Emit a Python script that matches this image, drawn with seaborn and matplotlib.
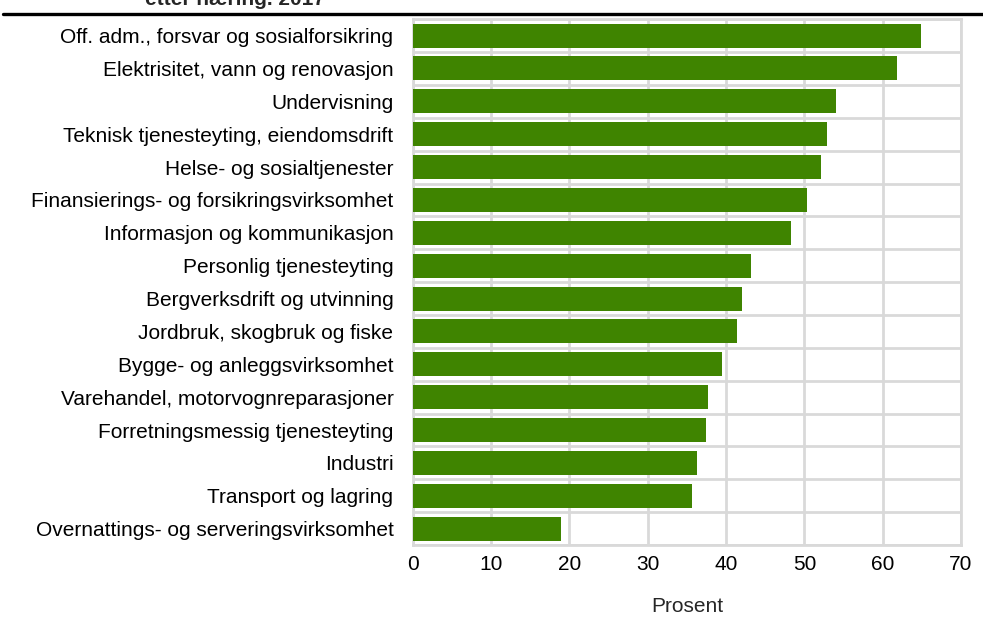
import matplotlib
matplotlib.use("Agg")
import matplotlib.pyplot as plt
from matplotlib.lines import Line2D
from matplotlib.ticker import MultipleLocator
import pandas as pd
import seaborn as sns

# Data
naering = [
    "Off. adm., forsvar og sosialforsikring",
    "Elektrisitet, vann og renovasjon",
    "Undervisning",
    "Teknisk tjenesteyting, eiendomsdrift",
    "Helse- og sosialtjenester",
    "Finansierings- og forsikringsvirksomhet",
    "Informasjon og kommunikasjon",
    "Personlig tjenesteyting",
    "Bergverksdrift og utvinning",
    "Jordbruk, skogbruk og fiske",
    "Bygge- og anleggsvirksomhet",
    "Varehandel, motorvognreparasjoner",
    "Forretningsmessig tjenesteyting",
    "Industri",
    "Transport og lagring",
    "Overnattings- og serveringsvirksomhet",
]
prosent = [64.9, 61.8, 54.0, 52.9, 52.1, 50.3, 48.3, 43.2, 42.0, 41.4,
           39.5, 37.7, 37.4, 36.3, 35.6, 18.9]
x_ticks = [0, 10, 20, 30, 40, 50, 60, 70]

df = pd.DataFrame({"naering": naering, "prosent": prosent})

sns.set_style("white")
plt.rcParams["font.family"] = ["Liberation Sans", "DejaVu Sans"]

fig = plt.figure(figsize=(9.83, 6.18), dpi=100)
ax = fig.add_axes([0.420, 0.118, 0.5576, 0.851])

sns.barplot(data=df, x="prosent", y="naering", color="#3f8400", saturation=1,
            width=0.73, linewidth=0, ax=ax, zorder=3)

ax.set_xlim(0, 70)
ax.set_ylim(len(naering) - 0.5, -0.5)
ax.set_xticks(x_ticks)
ax.set_yticks(range(len(naering)))
ax.set_yticklabels(naering)
ax.yaxis.set_minor_locator(MultipleLocator(1, offset=0.5))

grid_col = "#d9d9d9"
ax.grid(axis="x", which="major", color=grid_col, linewidth=2, zorder=0)
ax.grid(axis="y", which="minor", color=grid_col, linewidth=2, zorder=0)
ax.set_axisbelow(True)
for s in ax.spines.values():
    s.set_color(grid_col)
    s.set_linewidth(2)

fs = 15
ax.tick_params(axis="both", which="both", length=0, labelsize=fs, colors="black")
ax.tick_params(axis="x", pad=7)
ax.tick_params(axis="y", pad=14)
ax.set_ylabel("")
ax.set_xlabel("Prosent", fontsize=fs, labelpad=17)

# cut-off title and top rule
fig.text(0.1475, 1 - 5 / 618, "etter næring. 2017", fontsize=fs, fontweight="bold",
         va="baseline", ha="left")
fig.add_artist(Line2D([0.003, 1.0], [1 - 14 / 618, 1 - 14 / 618],
                      color="black", linewidth=2.4, transform=fig.transFigure))

fig.savefig("out.png", dpi=100)
